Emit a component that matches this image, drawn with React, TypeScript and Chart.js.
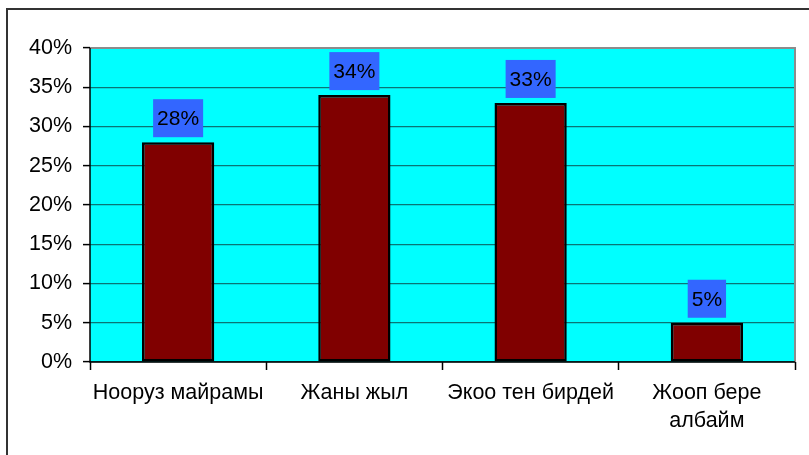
import React, { useEffect, useRef } from "react";
import { Chart, registerables } from "chart.js";

Chart.register(...registerables);

const categories: (string | string[])[] = [
  "Нооруз майрамы",
  "Жаны жыл",
  "Экоо тен бирдей",
  ["Жооп бере", "албайм"],
];
const values: number[] = [28, 34, 33, 5];
const yTicks: number[] = [0, 5, 10, 15, 20, 25, 30, 35, 40];

const FONT = "'Liberation Sans', Arial, sans-serif";
const FS = 21.5;

const decor = {
  id: "decor",
  beforeDraw(chart: any) {
    const { ctx, chartArea: a } = chart;
    ctx.save();
    ctx.fillStyle = "#ffffff";
    ctx.fillRect(0, 0, chart.width, chart.height);
    ctx.fillStyle = "#00ffff";
    ctx.fillRect(a.left, a.top, a.right - a.left, a.bottom - a.top);
    ctx.strokeStyle = "#333333";
    ctx.lineWidth = 2;
    ctx.beginPath();
    ctx.moveTo(7, 460);
    ctx.lineTo(7, 9);
    ctx.lineTo(809, 9);
    ctx.stroke();
    ctx.restore();
  },
  beforeDatasetsDraw(chart: any) {
    const { ctx, chartArea: a } = chart;
    ctx.save();
    ctx.strokeStyle = "#8c8c8c";
    ctx.lineWidth = 2;
    ctx.beginPath();
    ctx.moveTo(a.left, a.top);
    ctx.lineTo(a.right, a.top);
    ctx.lineTo(a.right, a.bottom);
    ctx.stroke();
    ctx.strokeStyle = "#000000";
    ctx.lineWidth = 1.5;
    ctx.beginPath();
    ctx.moveTo(a.left, a.top);
    ctx.lineTo(a.left, a.bottom);
    ctx.lineTo(a.right, a.bottom);
    ctx.stroke();
    ctx.restore();
  },
  afterDatasetsDraw(chart: any) {
    const { ctx } = chart;
    const meta = chart.getDatasetMeta(0);
    ctx.save();
    ctx.font = `21px ${FONT}`;
    ctx.textAlign = "center";
    ctx.textBaseline = "middle";
    meta.data.forEach((bar: any, i: number) => {
      const txt = values[i] + "%";
      const w = ctx.measureText(txt).width + 8;
      const h = 38;
      const bottom = bar.y - 5;
      ctx.fillStyle = "#3366ff";
      ctx.fillRect(bar.x - w / 2, bottom - h, w, h);
      ctx.fillStyle = "#000000";
      ctx.fillText(txt, bar.x, bottom - h / 2 + 1);
    });
    ctx.restore();
  },
};

export default function App() {
  const ref = useRef<HTMLCanvasElement>(null);
  useEffect(() => {
    if (!ref.current) return;
    const chart = new Chart(ref.current, {
      type: "bar",
      data: {
        labels: categories,
        datasets: [
          {
            data: values,
            backgroundColor: "#800000",
            borderColor: "#000000",
            borderWidth: 2.5,
            borderSkipped: false,
            categoryPercentage: 1,
            barPercentage: 0.41,
          },
        ],
      },
      options: {
        responsive: false,
        animation: false,
        devicePixelRatio: 1,
        layout: { padding: { left: 0, top: 48, right: 14, bottom: 0 } },
        plugins: { legend: { display: false }, tooltip: { enabled: false } },
        scales: {
          x: {
            offset: true,
            grid: {
              display: true,
              offset: true,
              drawOnChartArea: false,
              tickColor: "#000000",
              tickLength: 8,
              tickWidth: 1.5,
            },
            border: { display: false },
            ticks: {
              color: "#000000",
              font: { family: FONT, size: FS, lineHeight: 1.3 },
              padding: 9,
              maxRotation: 0,
              autoSkip: false,
            },
            afterFit(scale: any) {
              scale.height = 93;
            },
          },
          y: {
            min: 0,
            max: 40,
            grid: {
              color: "#0a7575",
              lineWidth: 1.2,
              tickColor: "#000000",
              tickLength: 7,
              tickWidth: 1.5,
            },
            border: { display: false },
            afterBuildTicks(scale: any) {
              scale.ticks = yTicks.map((v) => ({ value: v }));
            },
            ticks: {
              color: "#000000",
              font: { family: FONT, size: FS },
              padding: 11,
              callback: (v: any) => v + "%",
            },
            afterFit(scale: any) {
              scale.width = 90;
            },
          },
        },
      },
      plugins: [decor],
    });
    return () => chart.destroy();
  }, []);
  return (
    <div style={{ position: "fixed", left: 0, top: 0, width: 809, height: 455, background: "#fff" }}>
      <canvas ref={ref} width={809} height={455} style={{ display: "block" }} />
    </div>
  );
}
